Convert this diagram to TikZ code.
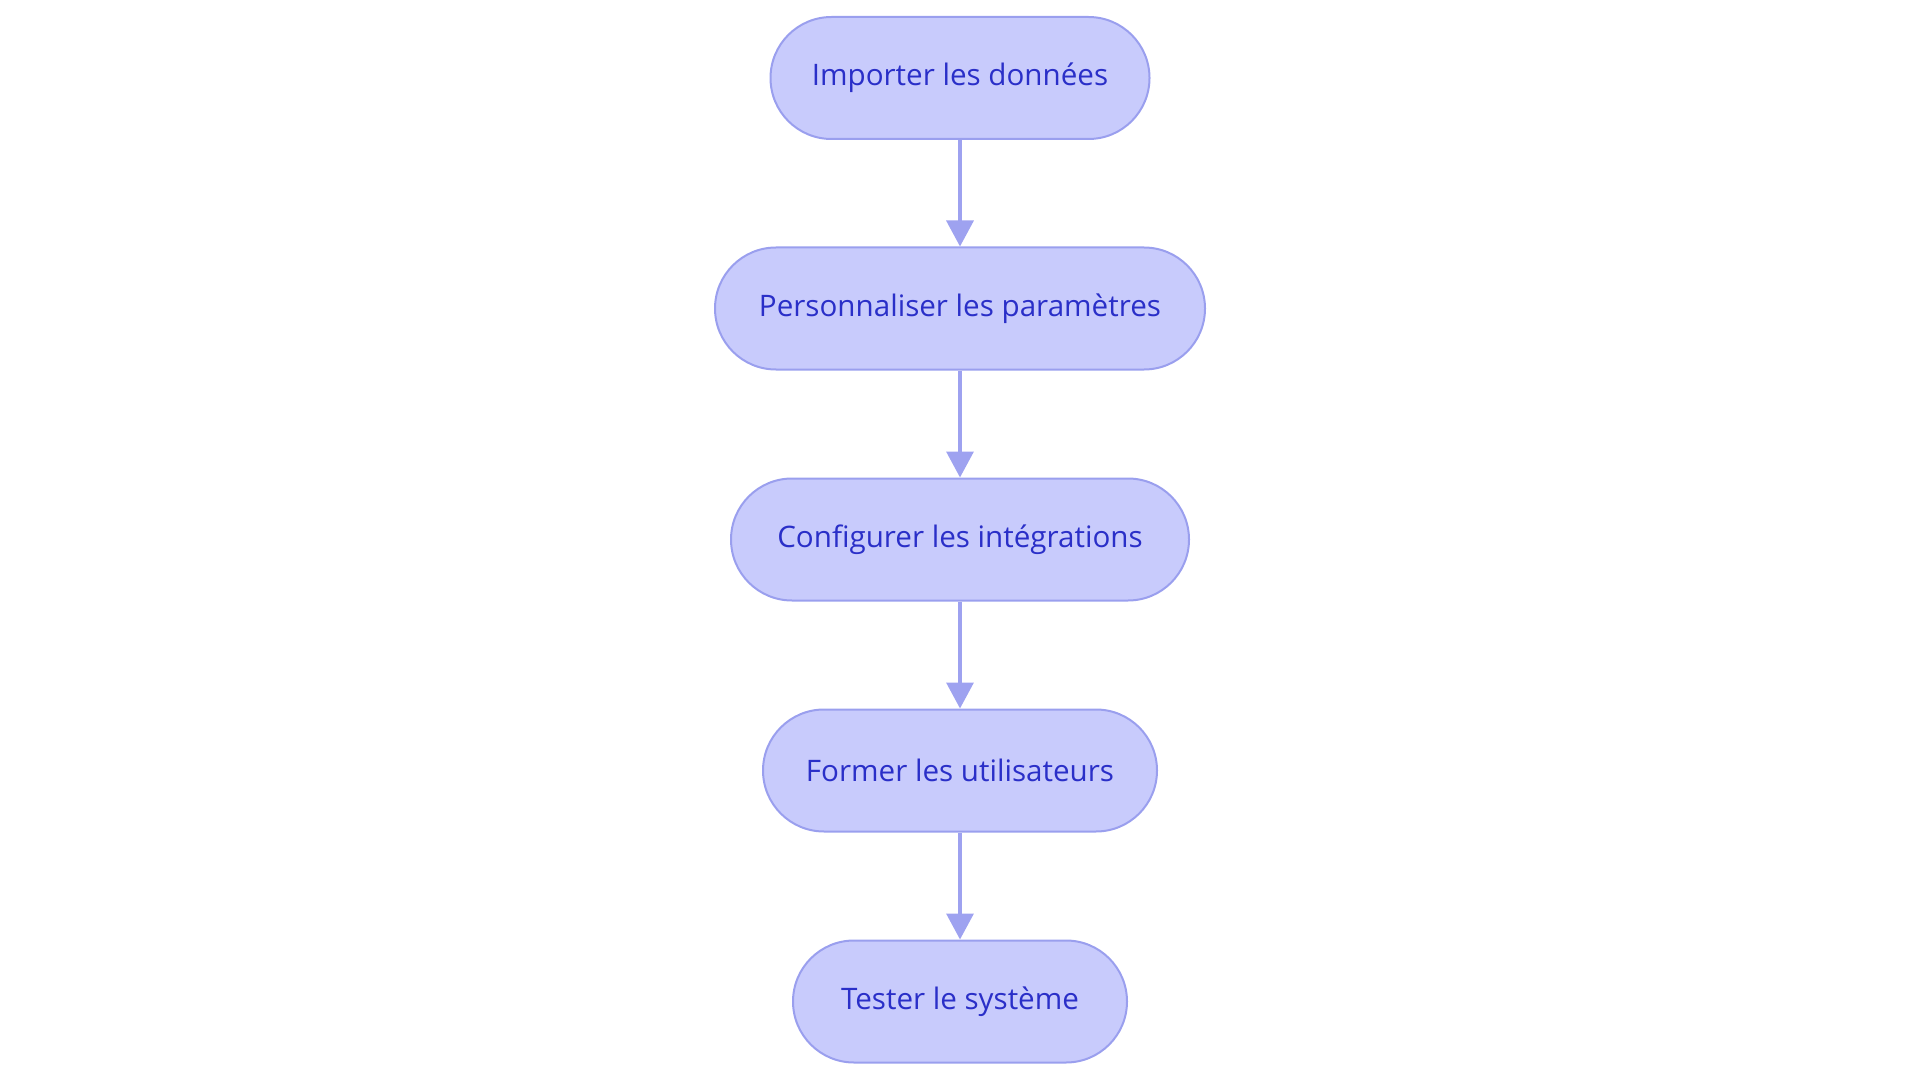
\documentclass[tikz,border=0pt]{standalone}
\usepackage{fontspec}
\setmainfont{Open Sans}
\usetikzlibrary{arrows.meta}
\definecolor{boxfill}{HTML}{C8CBFC}
\definecolor{boxline}{HTML}{9A9FEE}
\definecolor{txt}{HTML}{2A2FC8}
\definecolor{arr}{HTML}{9EA2F0}
\begin{document}
\begin{tikzpicture}[x=1pt,y=-1pt,
  stepbox/.style={draw=boxline, fill=boxfill, line width=2pt, rounded corners=61pt,
    minimum height=122pt, inner sep=0pt, text=txt, font=\fontsize{29.6}{34}\selectfont},
  flow/.style={draw=arr, line width=3.5pt, -{Triangle[width=27pt,length=26pt]}}]
\useasboundingbox (0,0) rectangle (1920,1083);
\node[stepbox, minimum width=379pt] (a) at (960,78) {Importer les données};
\node[stepbox, minimum width=490pt] (b) at (960,308.5) {Personnaliser les paramètres};
\node[stepbox, minimum width=458pt] (c) at (960,539.5) {Configurer les intégrations};
\node[stepbox, minimum width=394pt] (d) at (960,770.5) {Former les utilisateurs};
\node[stepbox, minimum width=334pt] (e) at (960,1001.5) {Tester le système};
\draw[flow] (a) -- (b);
\draw[flow] (b) -- (c);
\draw[flow] (c) -- (d);
\draw[flow] (d) -- (e);
\end{tikzpicture}
\end{document}
